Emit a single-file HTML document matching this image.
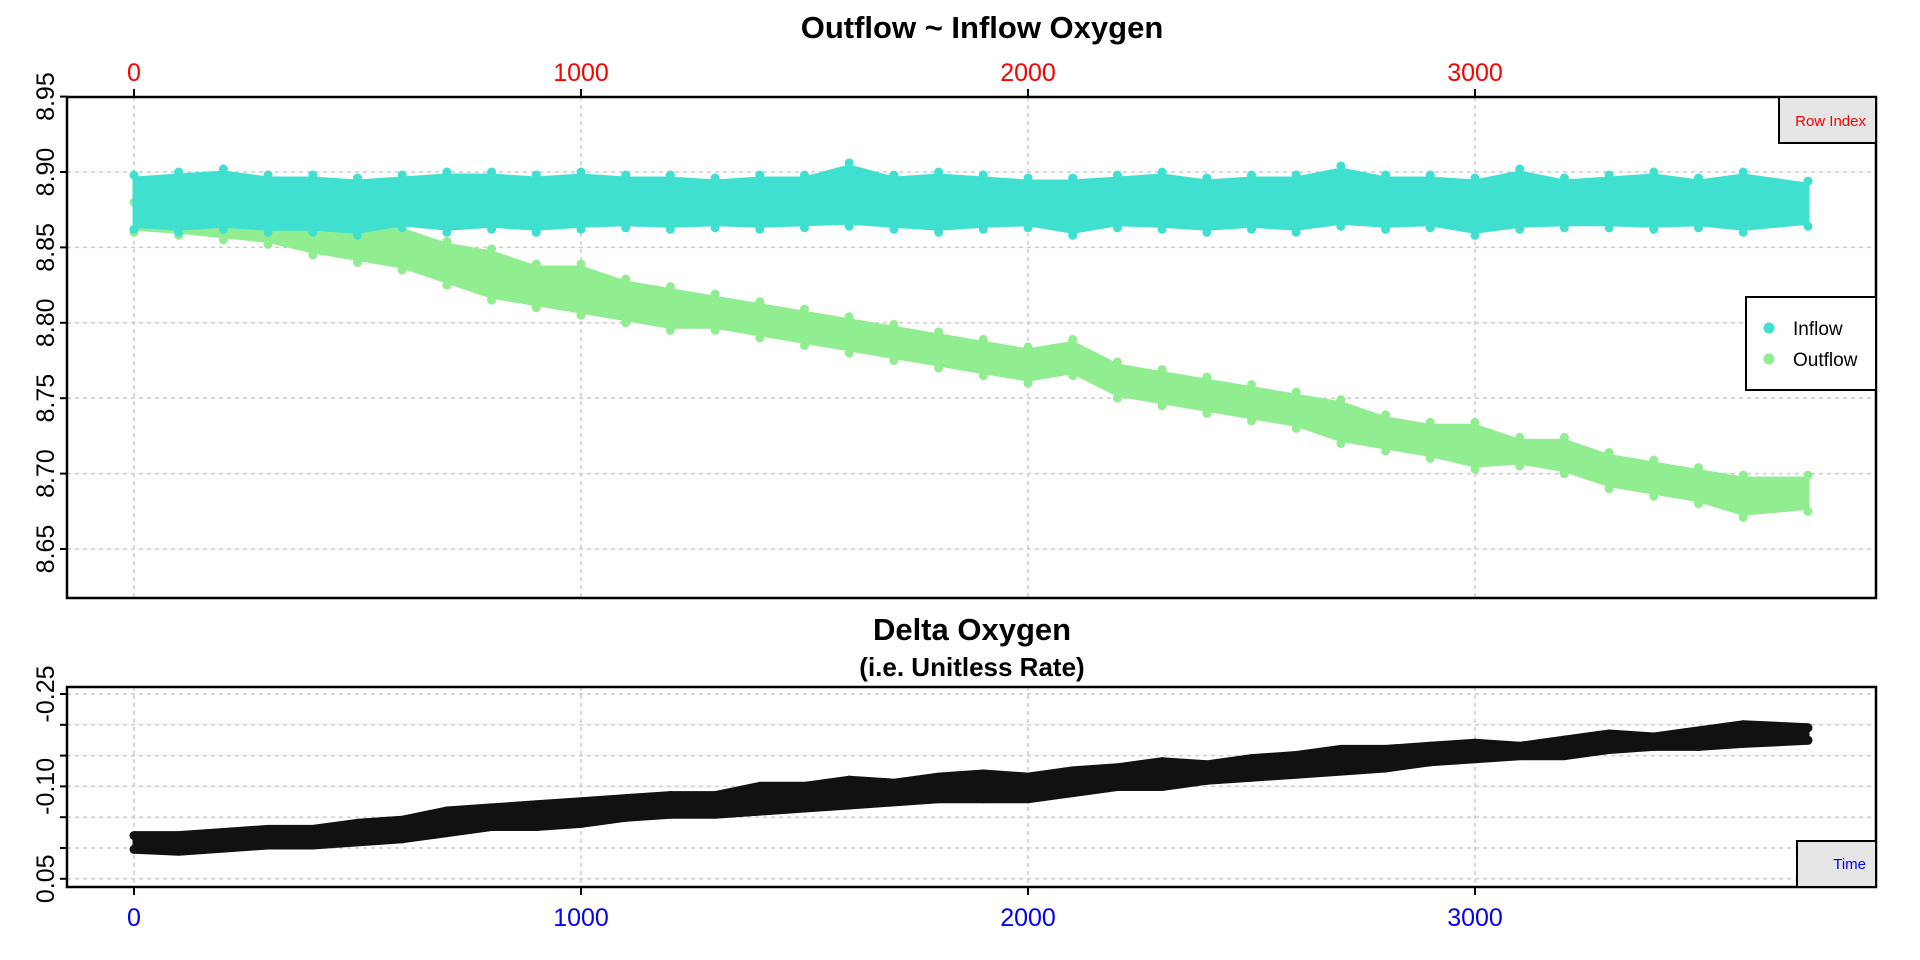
<!DOCTYPE html>
<html><head><meta charset="utf-8"><style>
html,body{margin:0;padding:0;background:#fff;}
svg{display:block;font-family:"Liberation Sans",Arial,sans-serif;}
</style></head><body>
<svg id="chart" width="1920" height="960" viewBox="0 0 1920 960" xmlns="http://www.w3.org/2000/svg">
</svg>
<script>
const rows = [0,100,200,300,400,500,600,700,800,900,1000,1100,1200,1300,1400,1500,1600,1700,1800,1900,2000,2100,2200,2300,2400,2500,2600,2700,2800,2900,3000,3100,3200,3300,3400,3500,3600,3745];
const inflowLow = [8.864,8.862,8.864,8.862,8.862,8.860,8.865,8.862,8.864,8.862,8.864,8.865,8.864,8.865,8.864,8.865,8.866,8.864,8.862,8.864,8.865,8.860,8.865,8.864,8.862,8.864,8.862,8.866,8.864,8.865,8.860,8.864,8.865,8.865,8.864,8.865,8.862,8.866];
const inflowHigh = [8.896,8.898,8.900,8.896,8.896,8.894,8.896,8.898,8.898,8.896,8.898,8.896,8.896,8.894,8.896,8.896,8.904,8.896,8.898,8.896,8.894,8.894,8.896,8.898,8.894,8.896,8.896,8.902,8.896,8.896,8.894,8.900,8.894,8.896,8.898,8.894,8.898,8.892];
const outflowLow = [8.862,8.860,8.857,8.854,8.847,8.842,8.837,8.827,8.817,8.812,8.807,8.802,8.797,8.797,8.792,8.787,8.782,8.777,8.772,8.767,8.762,8.767,8.752,8.747,8.742,8.737,8.732,8.722,8.717,8.712,8.705,8.707,8.702,8.692,8.687,8.682,8.673,8.677];
const outflowHigh = [8.878,8.882,8.882,8.882,8.872,8.867,8.862,8.852,8.847,8.837,8.837,8.827,8.822,8.817,8.812,8.807,8.802,8.797,8.792,8.787,8.782,8.787,8.772,8.767,8.762,8.757,8.752,8.747,8.737,8.732,8.732,8.722,8.722,8.712,8.707,8.702,8.697,8.697];
const deltaLow = [-0.025,-0.025,-0.03,-0.035,-0.035,-0.045,-0.05,-0.065,-0.07,-0.075,-0.08,-0.085,-0.09,-0.09,-0.105,-0.105,-0.115,-0.11,-0.12,-0.125,-0.12,-0.13,-0.135,-0.145,-0.14,-0.15,-0.155,-0.165,-0.165,-0.17,-0.175,-0.17,-0.18,-0.19,-0.185,-0.195,-0.205,-0.2];
const deltaHigh = [0.007,0.01,0.005,0.0,0.0,-0.005,-0.01,-0.02,-0.03,-0.03,-0.035,-0.045,-0.05,-0.05,-0.055,-0.06,-0.065,-0.07,-0.075,-0.075,-0.075,-0.085,-0.095,-0.095,-0.105,-0.11,-0.115,-0.12,-0.125,-0.135,-0.14,-0.145,-0.145,-0.155,-0.16,-0.16,-0.165,-0.17];
const xTicks = [0,1000,2000,3000];
const y1Ticks = [8.65,8.70,8.75,8.80,8.85,8.90,8.95];
const y1Labels = ["8.65","8.70","8.75","8.80","8.85","8.90","8.95"];
const y2Ticks = [-0.25,-0.20,-0.15,-0.10,-0.05,0.00,0.05];
const y2Labels = ["-0.25","","","-0.10","","","0.05"];

const NS="http://www.w3.org/2000/svg";
const svg=document.getElementById('chart');
const P1={l:67,r:1876,t:97,b:598};
const P2={l:67,r:1876,t:687,b:887};
function xs(v){return 134+v*0.447;}
function y1(v){return 549-(v-8.65)/0.05*75.4;}
function y2(v){return 694+(v+0.25)/0.05*30.8;}
function mk(tag,attrs,parent){const e=document.createElementNS(NS,tag);for(const k in attrs)e.setAttribute(k,attrs[k]);(parent||svg).appendChild(e);return e;}

const grid=mk('g',{});


xTicks.forEach(t=>{
  mk('line',{x1:xs(t),x2:xs(t),y1:P1.t,y2:P1.b,stroke:'#ccc','stroke-width':1.5,'stroke-dasharray':'4,4'},grid);
  mk('line',{x1:xs(t),x2:xs(t),y1:P2.t,y2:P2.b,stroke:'#ccc','stroke-width':1.5,'stroke-dasharray':'4,4'},grid);
});
y1Ticks.forEach(t=>mk('line',{x1:P1.l,x2:P1.r,y1:y1(t),y2:y1(t),stroke:'#ccc','stroke-width':1.5,'stroke-dasharray':'4,4'},grid));
y2Ticks.forEach(t=>mk('line',{x1:P2.l,x2:P2.r,y1:y2(t),y2:y2(t),stroke:'#ccc','stroke-width':1.5,'stroke-dasharray':'4,4'},grid));

function band(lo,hi,yf,color,name){
  const g=mk('g',{});
  
  
  let pts=[];
  rows.forEach((r,i)=>pts.push(xs(r).toFixed(1)+','+yf(hi[i]).toFixed(1)));
  for(let i=rows.length-1;i>=0;i--)pts.push(xs(rows[i]).toFixed(1)+','+yf(lo[i]).toFixed(1));
  const p=mk('polygon',{points:pts.join(' '),fill:color,stroke:color,'stroke-width':3,'stroke-linejoin':'round'},g);
  
  
  rows.forEach((r,i)=>{
    const c1=mk('circle',{cx:xs(r),cy:yf(hi[i])-3,r:4.5,fill:color},g);
    
    
    const c2=mk('circle',{cx:xs(r),cy:yf(lo[i])+3,r:4.5,fill:color},g);
    
    
  });
}
band(outflowLow,outflowHigh,y1,'#90ee90','outflow-series');
band(inflowLow,inflowHigh,y1,'#40e0d0','inflow-series');
band(deltaLow,deltaHigh,y2,'#111','delta-series');

[P1,P2].forEach((P,i)=>{
  const f=mk('rect',{x:P.l,y:P.t,width:P.r-P.l,height:P.b-P.t,fill:'none',stroke:'#000','stroke-width':2.5});
  
  
});

xTicks.forEach(t=>{
  mk('line',{x1:xs(t),x2:xs(t),y1:P1.t,y2:P1.t-8,stroke:'#000','stroke-width':2});
  const tx=mk('text',{x:xs(t),y:81,'text-anchor':'middle','font-size':25,fill:'#f00'});
  tx.textContent=t;
  
  
});
xTicks.forEach(t=>{
  mk('line',{x1:xs(t),x2:xs(t),y1:P2.b,y2:P2.b+8,stroke:'#000','stroke-width':2});
  const tx=mk('text',{x:xs(t),y:926,'text-anchor':'middle','font-size':25,fill:'#00f'});
  tx.textContent=t;
  
  
});
y1Ticks.forEach((t,i)=>{
  mk('line',{x1:P1.l,x2:P1.l-7,y1:y1(t),y2:y1(t),stroke:'#000','stroke-width':2});
  const tx=mk('text',{x:0,y:0,'text-anchor':'middle','font-size':25,fill:'#000',transform:'translate(54,'+y1(t)+') rotate(-90)'});
  tx.textContent=y1Labels[i];
  
  
});
y2Ticks.forEach((t,i)=>{
  mk('line',{x1:P2.l,x2:P2.l-7,y1:y2(t),y2:y2(t),stroke:'#000','stroke-width':2});
  if(y2Labels[i]){
    const tx=mk('text',{x:0,y:0,'text-anchor':'middle','font-size':25,fill:'#000',transform:'translate(54,'+y2(t)+') rotate(-90)'});
    tx.textContent=y2Labels[i];
    
    
  }
});

let t;
t=mk('text',{x:982,y:38,'text-anchor':'middle','font-size':31,'font-weight':'bold'});t.textContent='Outflow ~ Inflow Oxygen';


t=mk('text',{x:972,y:640,'text-anchor':'middle','font-size':31,'font-weight':'bold'});t.textContent='Delta Oxygen';


t=mk('text',{x:972,y:676,'text-anchor':'middle','font-size':26,'font-weight':'bold'});t.textContent='(i.e. Unitless Rate)';


let r=mk('rect',{x:1779,y:97,width:97,height:46,fill:'#e5e5e5',stroke:'#000','stroke-width':2});


t=mk('text',{x:1866,y:126,'text-anchor':'end','font-size':15,fill:'#f00'});t.textContent='Row Index';


r=mk('rect',{x:1797,y:841,width:79,height:46,fill:'#e5e5e5',stroke:'#000','stroke-width':2});


t=mk('text',{x:1866,y:869,'text-anchor':'end','font-size':15,fill:'#00f'});t.textContent='Time';


r=mk('rect',{x:1746,y:297,width:130,height:93,fill:'#fff',stroke:'#000','stroke-width':2});


let c=mk('circle',{cx:1769,cy:328,r:5.5,fill:'#40e0d0'});


c=mk('circle',{cx:1769,cy:359,r:5.5,fill:'#90ee90'});


t=mk('text',{x:1793,y:335,'font-size':19});t.textContent='Inflow';


t=mk('text',{x:1793,y:366,'font-size':19});t.textContent='Outflow';


</script>
</body></html>
